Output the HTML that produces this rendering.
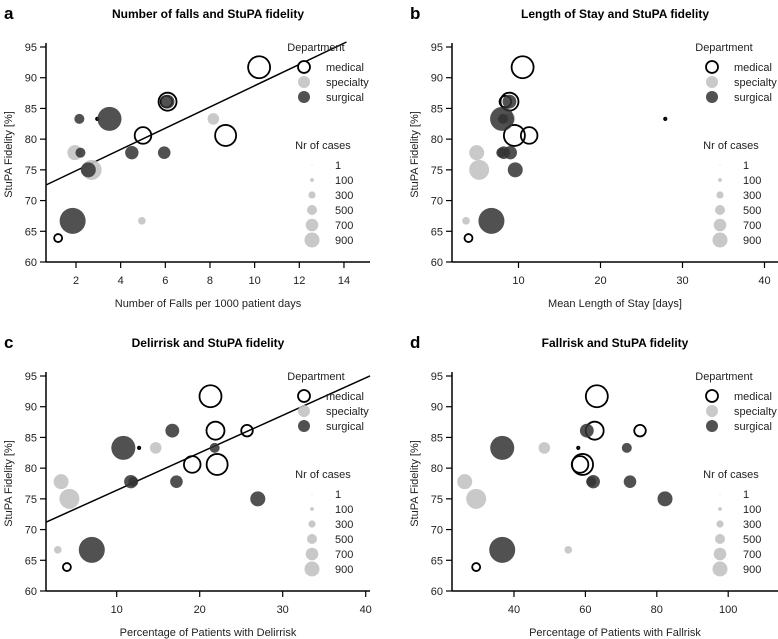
<!DOCTYPE html>
<html><head><meta charset="utf-8">
<style>
body{margin:0;background:#fff;}
svg{display:block;font-family:"Liberation Sans",Arial,sans-serif;}
</style></head>
<body>
<svg id="chart" width="778" height="639" viewBox="0 0 778 639" xmlns="http://www.w3.org/2000/svg"></svg>
<script>
// ---- data (one entry per ward) ----
const depts    = ["medical","medical","medical","medical","medical","medical","medical","specialty","specialty","specialty","specialty","surgical","surgical","surgical","surgical","surgical","surgical","surgical","surgical"];
const cases    = [1545,1165,620,1040,1450,42,357, 620,900,1350,330, 1750,500,800,500,765,700,900,1950];
const fidelity = [91.7,86.1,86.1,80.6,80.6,83.3,63.9, 83.3,77.8,75.0,66.7, 83.3,83.3,86.1,77.8,77.8,77.8,75.0,66.7];
const falls    = [10.2,6.1,6.05,5.0,8.7,2.95,1.2, 8.15,1.95,2.7,4.95, 3.5,2.15,6.1,2.2,4.5,5.95,2.55,1.85];
const los      = [10.5,8.9,8.4,11.3,9.5,27.9,3.9, 8.9,4.9,5.2,3.6, 8.0,8.1,8.9,7.9,9.0,8.2,9.6,6.7];
const delir    = [21.3,21.9,25.7,19.1,22.1,12.7,4.0, 14.7,3.3,4.3,2.9, 10.8,21.8,16.7,12.0,11.7,17.2,27.0,7.0];
const fallrisk = [63.2,62.6,75.3,58.5,59.2,58.0,29.4, 48.5,26.2,29.4,55.2, 36.7,71.6,60.4,61.6,62.2,72.5,82.3,36.7];
const legendSizes = [1,100,300,500,700,900];
const yTicks = [60,65,70,75,80,85,90,95];
const xTicksA = [2,4,6,8,10,12,14];
const xTicksB = [10,20,30,40];
const xTicksC = [10,20,30,40];
const xTicksD = [40,60,80,100];
const fitA = [71.4,1.73];   // intercept, slope
const fitC = [70.3,0.61];

const NS="http://www.w3.org/2000/svg";
const svg=document.getElementById('chart');
function mk(tag,attrs,parent,text){const e=document.createElementNS(NS,tag);for(const k in attrs)e.setAttribute(k,attrs[k]);if(text!==undefined)e.textContent=text;(parent||svg).appendChild(e);return e;}
function rad(n){return 0.5+7*Math.pow(n/900,0.75);}
const fills={medical:"none",specialty:"rgba(195,195,195,0.9)",surgical:"rgba(50,50,50,0.85)"};

function panel(o){
  const g=mk('g',{});
  
  
  const L=o.left,T=o.top,B=o.top+215,R=o.right;
  const sy=v=>B-(v-60)*(215/35);
  const sx=v=>o.x0px+(v-o.x0)*o.pxPer;
  const ltr=mk('text',{x:o.left-42,y:T-28,'font-size':17,'font-weight':'bold'},g,o.letter);
  
  const t=mk('text',{x:o.titleX,y:T-29,'font-size':12,'font-weight':'bold','text-anchor':'middle'},g,o.title);
  
  const ya=mk('g',{},g);
  mk('line',{x1:L,y1:T-4,x2:L,y2:B,stroke:'#000','stroke-width':1.5},ya);
  yTicks.forEach(v=>{mk('line',{x1:L-6,y1:sy(v),x2:L,y2:sy(v),stroke:'#000','stroke-width':1.2},ya);
    const tl=mk('text',{x:L-9,y:sy(v)+4,'font-size':11,'text-anchor':'end',fill:'#222'},ya,v);
    });
  const xa=mk('g',{},g);
  mk('line',{x1:L,y1:B,x2:R,y2:B,stroke:'#000','stroke-width':1.5},xa);
  o.xt.forEach(v=>{mk('line',{x1:sx(v),y1:B,x2:sx(v),y2:B+6,stroke:'#000','stroke-width':1.2},xa);
    const tl=mk('text',{x:sx(v),y:B+22,'font-size':11,'text-anchor':'middle',fill:'#222'},xa,v);
    });
  const xt=mk('text',{x:o.titleX,y:B+45,'font-size':11,'text-anchor':'middle',fill:'#222'},g,o.xlab);
  
  const yt=mk('text',{x:0,y:0,'font-size':11,'text-anchor':'middle',fill:'#222',transform:`translate(${L-34},${(T+B)/2}) rotate(-90)`},g,'StuPA Fidelity [%]');
  
  if(o.fit){
    const xa0=(L-o.x0px)/o.pxPer+o.x0;
    let xa1=(R-o.x0px)/o.pxPer+o.x0;
    const ymax=60+(B-(T-5))/(215/35);
    const xAtTop=(ymax-o.fit[0])/o.fit[1];
    if(xAtTop<xa1)xa1=xAtTop;
    const ln=mk('line',{x1:sx(xa0),y1:sy(o.fit[0]+o.fit[1]*xa0),x2:sx(xa1),y2:sy(o.fit[0]+o.fit[1]*xa1),stroke:'#000','stroke-width':1.5},g);
    
  }
  const pg=mk('g',{},g);
  o.xs.forEach((xv,i)=>{
    const d=depts[i];
    const c=mk('circle',{cx:sx(xv),cy:sy(fidelity[i]),r:rad(cases[i]),fill:fills[d],stroke:d==='medical'?'#000':'none','stroke-width':1.8},pg);
    
    
  });
  const lg=mk('g',{},g);
  const lx=o.legX, ly=T+4;
  mk('text',{x:lx+12,y:ly,'font-size':11,'text-anchor':'middle',fill:'#222'},lg,'Department');
  ['medical','specialty','surgical'].forEach((d,k)=>{
    const yy=ly+20+k*15;
    mk('circle',{cx:lx,cy:yy-4,r:6,fill:d==='medical'?'#fff':fills[d],stroke:d==='medical'?'#000':'none','stroke-width':1.8},lg);
    const e=mk('text',{x:lx+22,y:yy,'font-size':11,fill:'#222'},lg,d);
    
  });
  const sg=mk('g',{},g);
  mk('text',{x:lx+19,y:ly+98,'font-size':11,'text-anchor':'middle',fill:'#222'},sg,'Nr of cases');
  legendSizes.forEach((n,k)=>{
    const yy=ly+118+k*15;
    mk('circle',{cx:lx+8,cy:yy-4,r:rad(n),fill:'#c8c8c8'},sg);
    const e=mk('text',{x:lx+31,y:yy,'font-size':11,fill:'#222'},sg,n);
    
  });
}
panel({letter:'a',left:46,top:47,right:370,x0:2,x0px:76,pxPer:22.33,xt:xTicksA,xs:falls,fit:fitA,title:'Number of falls and StuPA fidelity',xlab:'Number of Falls per 1000 patient days',titleX:208,legX:304});
panel({letter:'b',left:452,top:47,right:778,x0:10,x0px:518.5,pxPer:8.2,xt:xTicksB,xs:los,title:'Length of Stay and StuPA fidelity',xlab:'Mean Length of Stay [days]',titleX:615,legX:712});
panel({letter:'c',left:46,top:376,right:370,x0:10,x0px:116.7,pxPer:8.3,xt:xTicksC,xs:delir,fit:fitC,title:'Delirrisk and StuPA fidelity',xlab:'Percentage of Patients with Delirrisk',titleX:208,legX:304});
panel({letter:'d',left:452,top:376,right:778,x0:40,x0px:514,pxPer:3.57,xt:xTicksD,xs:fallrisk,title:'Fallrisk and StuPA fidelity',xlab:'Percentage of Patients with Fallrisk',titleX:615,legX:712});
</script>
</body></html>
